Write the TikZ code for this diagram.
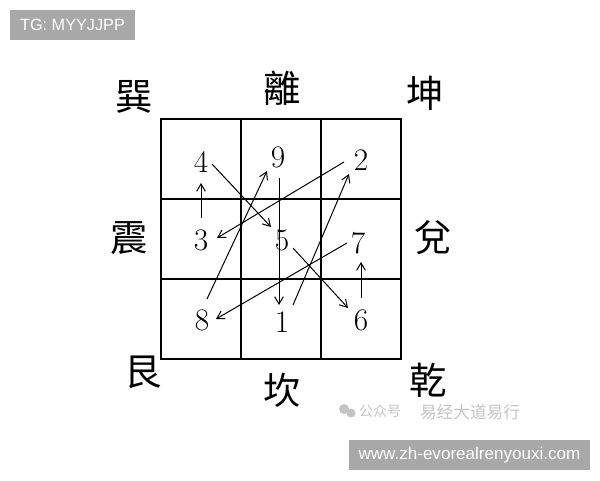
\documentclass[tikz,border=0pt]{standalone}
\usepackage{fontspec}
\setsansfont{Liberation Sans}
\newfontfamily\cjktc{Noto Sans CJK TC}
\newfontfamily\cjksc{Noto Sans CJK SC}
\usetikzlibrary{arrows.meta}
\definecolor{wmgray}{HTML}{A8A8A8}
\definecolor{faint}{HTML}{C4C4C4}
\tikzset{
  num/.style={inner sep=0pt, font=\fontsize{23.5}{23.5}\selectfont},
  gua/.style={inner sep=0pt, font=\cjktc\fontsize{28}{28}\selectfont},
  arr/.style={line width=0.75pt, -{Straight Barb[length=5.5pt,width=6.5pt]}},
  grid/.style={line width=2.1pt},
  tag/.style={fill=wmgray, text=white, inner sep=0pt}
}
\begin{document}
\begin{tikzpicture}[x=0.75pt,y=-0.75pt]
\useasboundingbox (0,0) rectangle (600,480);
\fill[white] (0,0) rectangle (600,480);
% grid
\draw[grid] (161,119) rectangle (401,359);
\draw[grid] (241,119) -- (241,359) (321,119) -- (321,359)
            (161,199) -- (401,199) (161,279) -- (401,279);
% numbers
\node[num] (n4) at (201,162) {4};
\node[num] (n9) at (278,157) {9};
\node[num] (n2) at (361,160) {2};
\node[num] (n3) at (201,240) {3};
\node[num] (n5) at (282,240) {5};
\node[num] (n7) at (358,243) {7};
\node[num] (n8) at (202,320) {8};
\node[num] (n1) at (282,322) {1};
\node[num] (n6) at (361,320) {6};
% arrows
\draw[arr] ([shift={(0,-22)}]n3.center) -- ([shift={(0,21)}]n4.center);
\draw[arr] ([shift={(11,2)}]n4.center) -- ([shift={(-11,-13)}]n5.center);
\draw[arr] ([shift={(11,8)}]n5.center) -- ([shift={(-13,-12)}]n6.center);
\draw[arr] ([shift={(0,-22)}]n6.center) -- ([shift={(3,19)}]n7.center);
\draw[arr] ([shift={(-11,0)}]n7.center) -- ([shift={(14,-1)}]n8.center);
\draw[arr] ([shift={(5,-21)}]n8.center) -- ([shift={(-11,14)}]n9.center);
\draw[arr] ([shift={(1,21)}]n9.center) -- ([shift={(-3,-17)}]n1.center);
\draw[arr] ([shift={(11,-17)}]n1.center) -- ([shift={(-12,14)}]n2.center);
\draw[arr] ([shift={(-17,2)}]n2.center) -- ([shift={(16,-2)}]n3.center);
% trigrams
\node[gua] (xun) at (134,97) {巽};
\node[gua] (li) at (282,88) {離};
\node[gua] (kun) at (425,93) {坤};
\node[gua] (zhen) at (129,238) {震};
\node[gua] (dui) at (433,238) {兌};
\node[gua] (gen) at (143,372) {艮};
\node[gua] (kan) at (282,390) {坎};
\node[gua] (qian) at (428,380) {乾};
% watermarks
\node[tag, minimum width=125*0.75pt, minimum height=30*0.75pt, font=\sffamily\fontsize{12.2}{12.2}\selectfont] (tg) at (72.5,25) {TG: MYYJJPP};
\fill[faint] (344,409) circle (5) (351,413) circle (4.5);
\node[inner sep=0pt, text=faint, font=\cjksc\fontsize{10.5}{10.5}\selectfont] (gzh) at (380,411) {公众号};
\node[inner sep=0pt, text=faint, font=\cjksc\fontsize{12.5}{12.5}\selectfont] (wm) at (470,412) {易经大道易行};
\node[tag, minimum width=241*0.75pt, minimum height=30*0.75pt, font=\sffamily\fontsize{12.8}{12.8}\selectfont] (web) at (469.5,455) {www.zh-evorealrenyouxi.com};
\end{tikzpicture}
\end{document}
